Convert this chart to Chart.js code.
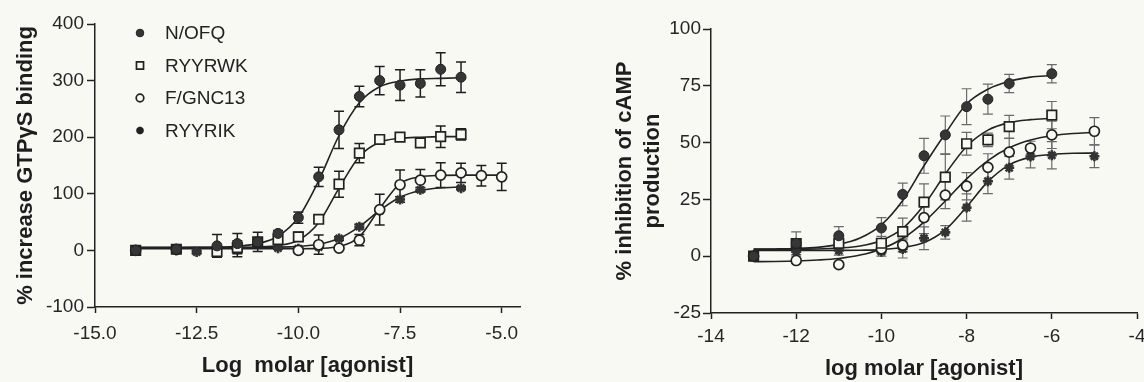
<!DOCTYPE html>
<html>
<head>
<meta charset="utf-8">
<script src="https://cdn.jsdelivr.net/npm/chart.js@4.4.0/dist/chart.umd.min.js"></script>
<style>
  html, body { margin: 0; padding: 0; background: #f9f9f4; overflow: hidden; }
  #wrap { position: relative; width: 1144px; height: 382px; overflow: hidden; }
  #gtpChart { position: absolute; left: 0; top: 0; }
  #campChart { position: absolute; left: 572px; top: 0; }
</style>
</head>
<body>
<div id="wrap">
  <canvas id="gtpChart" width="560" height="382"></canvas>
  <canvas id="campChart" width="600" height="382"></canvas>
</div>
<script>
// === Data ===
const seriesNames = ['N/OFQ', 'RYYRWK', 'F/GNC13', 'RYYRIK'];

// left panel: % increase GTPyS binding (mean, +/- error)
const gtpDoses = [-14, -13, -12.5, -12, -11.5, -11, -10.5, -10, -9.5, -9, -8.5, -8, -7.5, -7, -6.5, -6, -5.5, -5];
const gtpNofq     = [0, 2, null, 8, 12, 15, 30, 58, 130, 213, 272, 300, 292, 295, 320, 306, null, null];
const gtpNofqErr  = [0, 3, null, 20, 18, 17, 5, 10, 17, 33, 18, 25, 27, 24, 29, 27, null, null];
const gtpRwk      = [0, 2, null, -2, 5, 15, 19, 24, 55, 117, 172, 196, 200, 190, 201, 205, null, null];
const gtpRwkErr   = [0, 0, null, 3, 5, 0, 4, 8, 6, 23, 17, 5, 6, 6, 19, 10, null, null];
const gtpGnc      = [0, 2, null, null, 3, null, null, 0, 10, 4, 18, 72, 116, 124, 133, 137, 132, 130];
const gtpGncErr   = [0, 0, null, null, 14, null, null, 3, 17, 3, 10, 27, 26, 19, 22, 17, 18, 24];
const gtpRik      = [0, 0, -3, null, null, null, 4, 3, 6, 21, 42, 70, 90, 107, null, 110, null, null];
const gtpRikErr   = [0, 0, 3, null, null, null, 2, 2, 2, 3, 4, 0, 5, 4, null, 3, null, null];

// fitted curves
const gtpFitDoses = [-14, -13.5, -13, -12.5, -12, -11.5, -11, -10.5, -10, -9.5, -9, -8.5, -8, -7.5, -7, -6.5, -6, -5.5, -5];
const gtpFitNofq = [5, 5, 5.1, 5.3, 5.8, 7.4, 12, 25, 58, 123, 203, 261, 289, 299, 303, 304, 305, null, null];
const gtpFitRwk  = [5, 5, 5, 5, 5, 5.2, 5.9, 8.5, 18, 49, 110, 166, 191, 198, 200, 201, 201, null, null];
const gtpFitGnc  = [3, 3, 3, 3, 3, 3, 3, 3, 3, 3.6, 6.8, 24, 74, 118, 130, 132.6, 133, 133, 133];
const gtpFitRik  = [5, 5, 5, 5, 5, 5, 5.2, 5.7, 7.1, 10.9, 21, 42, 70.6, 93.8, 105.7, 110.4, 112, null, null];

const gtpTicksX = [-15, -12.5, -10, -7.5, -5];
const gtpTicksY = [-100, 0, 100, 200, 300, 400];
const gtpSquareFilled = [-14, -13, -11];

// right panel: % inhibition of cAMP production
const campDoses = [-13, -12, -11, -10, -9.5, -9, -8.5, -8, -7.5, -7, -6.5, -6, -5];
const campNofq    = [0, 5.7, 9, 12.4, 27.2, 44.2, 53.4, 65.8, 69.1, 76, null, 80.3, null];
const campNofqErr = [0, 5, 4, 4.6, 5, 7.7, 8.3, 7.9, 6.6, 4, null, 4, null];
const campRwk     = [0, 5.5, 5.7, 5.7, 10.8, 23.8, 34.8, 49.5, 51.2, 57, null, 62.1, null];
const campRwkErr  = [0, 2, 3, 3, 6, 8, 10, 5, 3, 5, null, 6, null];
const campGnc     = [0, -1.9, -3.7, 3.2, 4.9, 17, 26.9, 30.8, 39.1, 45.8, 47.6, 53.4, 55];
const campGncErr  = [0, 1, 1, 2, 3, 7, 6, 6, 6, 6, 3, 6, 6];
const campRik     = [0, 2, 2.5, 2, 3.2, 7.9, 10.5, 21.4, 33, 38.9, 43.9, 44.4, 44];
const campRikErr  = [0, 2, 2, 2, 4, 5, 3, 6, 5.5, 5, 5, 6, 5];

const campFitDoses = [-13, -12.5, -12, -11.5, -11, -10.5, -10, -9.5, -9, -8.5, -8, -7.5, -7, -6.5, -6, -5.5, -5];
const campFitNofq = [3.1, 3.2, 3.4, 3.9, 5.2, 8, 13.8, 24.5, 39.8, 54, 67, 73.5, 77, 78.8, 79.5, null, null];
const campFitRwk  = [3, 3, 3.1, 3.2, 3.6, 4.5, 6.9, 12.2, 22.5, 36.2, 48.3, 55.5, 58.8, 60.1, 60.7, null, null];
const campFitGnc  = [-2.4, -2.3, -2.1, -1.7, -1, 0.5, 3.2, 7.8, 15, 24.3, 34, 42.1, 47.7, 51.1, 53, 54, 54.5];
const campFitRik  = [2.5, 2.5, 2.5, 2.5, 2.55, 2.65, 2.9, 3.8, 6, 11.6, 21.7, 32.8, 40.2, 43.6, 44.8, 45.3, 45.4];

const campTicksX = [-14, -12, -10, -8, -6, -4];
const campTicksY = [-25, 0, 25, 50, 75, 100];
const campSquareFilled = [-13, -12];

// === Styles ===
const INK = '#222222';
const PAPER = '#f9f9f4';
const FONT = "'Liberation Sans', Arial, Helvetica, sans-serif";
Chart.defaults.font.family = FONT;

const markerStyles = [
  { pointStyle: 'circle', fill: '#363636', radius: 5, border: 1 },
  { pointStyle: 'rect', fill: PAPER, radius: 6.7, border: 1.7 },
  { pointStyle: 'circle', fill: PAPER, radius: 5, border: 1.7 },
  { pointStyle: 'star', fill: INK, radius: 5, border: 2.6 }
];

function points(xs, ys, errs) {
  return xs.map((x, i) => ({ x: x, y: ys[i], e: errs ? errs[i] : 0 })).filter(p => p.y !== null);
}

function markerSet(i, data, squareFilled) {
  const st = markerStyles[i];
  return {
    type: 'scatter',
    label: seriesNames[i],
    data: data,
    order: 1,
    pointStyle: st.pointStyle,
    pointRadius: st.radius,
    pointBorderWidth: st.border,
    pointBorderColor: i === 3 ? '#333' : INK,
    pointBackgroundColor: i === 1
      ? (c => (c.raw && squareFilled.includes(c.raw.x)) ? '#363636' : PAPER)
      : st.fill
  };
}

function curveSet(data) {
  return {
    type: 'line',
    data: data,
    order: 2,
    borderColor: INK,
    borderWidth: 1.6,
    pointRadius: 0,
    fill: false,
    cubicInterpolationMode: 'monotone'
  };
}

// === Plugins ===
const errorBars = {
  id: 'errorBars',
  beforeDatasetsDraw(chart, args, opts) {
    const { ctx } = chart;
    const xs = chart.scales.x, ys = chart.scales.y;
    ctx.save();
    ctx.strokeStyle = opts.color;
    ctx.lineWidth = opts.width;
    chart.data.datasets.forEach(ds => {
      if (ds.type !== 'scatter') return;
      ds.data.forEach(p => {
        if (!p.e) return;
        const px = xs.getPixelForValue(p.x);
        const top = ys.getPixelForValue(p.y + p.e);
        const bot = ys.getPixelForValue(p.y - p.e);
        ctx.beginPath();
        ctx.moveTo(px, top); ctx.lineTo(px, bot);
        ctx.moveTo(px - opts.cap, top); ctx.lineTo(px + opts.cap, top);
        ctx.moveTo(px - opts.cap, bot); ctx.lineTo(px + opts.cap, bot);
        ctx.stroke();
      });
    });
    ctx.restore();
  }
};

// legend drawn inside the plot, top left
const insetLegend = {
  id: 'insetLegend',
  afterDraw(chart, args, opts) {
    if (!opts.show) return;
    const { ctx, chartArea } = chart;
    ctx.save();
    ctx.font = '19px ' + FONT;
    ctx.textBaseline = 'middle';
    ctx.textAlign = 'left';
    seriesNames.forEach((name, i) => {
      const st = markerStyles[i];
      const sx = chartArea.left + 45;
      const sy = chartArea.top + 9 + i * 32.5;
      ctx.fillStyle = st.fill;
      ctx.strokeStyle = INK;
      ctx.lineWidth = st.border;
      Chart.helpers.drawPoint(ctx, {
        pointStyle: st.pointStyle,
        radius: st.pointStyle === 'rect' ? 5 : 3.8,
        borderWidth: st.border,
        rotation: 0
      }, sx, sy);
      ctx.fillStyle = '#222';
      ctx.fillText(name, chartArea.left + 70, sy + 1);
    });
    ctx.restore();
  }
};

// === Chart builder ===
function makePanel(canvasId, p) {
  const ctx = document.getElementById(canvasId).getContext('2d');
  return new Chart(ctx, {
    type: 'scatter',
    data: { datasets: p.datasets },
    options: {
      responsive: false,
      animation: false,
      devicePixelRatio: 1,
      layout: { padding: p.padding },
      plugins: {
        legend: { display: false },
        tooltip: { enabled: false },
        errorBars: p.errorBars,
        insetLegend: { show: p.legend }
      },
      scales: {
        x: {
          type: 'linear',
          min: p.xMin, max: p.xMax,
          afterBuildTicks: s => { s.ticks = p.ticksX.map(v => ({ value: v })); },
          afterFit: s => { s.height = p.xHeight; },
          border: { color: INK, width: 1.5 },
          grid: { drawOnChartArea: false, tickLength: 6, tickColor: INK, tickWidth: 1.5 },
          ticks: {
            color: '#262626', font: { size: 19 }, padding: p.xTickPad,
            maxRotation: 0, autoSkip: false, callback: p.xFormat
          },
          title: {
            display: true, text: p.xTitle, color: '#1e1e1e',
            font: { size: 22, weight: 'bold' },
            padding: { top: 0, bottom: p.xTitlePad }
          }
        },
        y: {
          type: 'linear',
          min: p.yMin, max: p.yMax,
          afterBuildTicks: s => { s.ticks = p.ticksY.map(v => ({ value: v })); },
          afterFit: s => { s.width = p.yWidth; },
          border: { color: INK, width: 1.5 },
          grid: { drawOnChartArea: false, tickLength: 8, tickColor: INK, tickWidth: 1.5 },
          ticks: { color: '#262626', font: { size: 19 }, padding: p.yTickPad },
          title: {
            display: true, text: p.yTitle, color: '#1e1e1e',
            font: { size: 22, weight: 'bold', lineHeight: 1.27 },
            padding: { top: p.yTitlePad, bottom: 0 }
          }
        }
      }
    },
    plugins: [errorBars, insetLegend]
  });
}

// === Left: GTPyS binding ===
makePanel('gtpChart', {
  datasets: [
    markerSet(0, points(gtpDoses, gtpNofq, gtpNofqErr), gtpSquareFilled),
    markerSet(1, points(gtpDoses, gtpRwk, gtpRwkErr), gtpSquareFilled),
    markerSet(2, points(gtpDoses, gtpGnc, gtpGncErr), gtpSquareFilled),
    markerSet(3, points(gtpDoses, gtpRik, gtpRikErr), gtpSquareFilled),
    curveSet(points(gtpFitDoses, gtpFitNofq)),
    curveSet(points(gtpFitDoses, gtpFitRwk)),
    curveSet(points(gtpFitDoses, gtpFitGnc)),
    curveSet(points(gtpFitDoses, gtpFitRik))
  ],
  padding: { left: 0, top: 24, right: 40, bottom: 0 },
  xMin: -15, xMax: -4.55, ticksX: gtpTicksX, xFormat: v => v.toFixed(1),
  yMin: -100, yMax: 400, ticksY: gtpTicksY,
  xHeight: 75, yWidth: 95, xTickPad: 9, yTickPad: 3,
  xTitle: 'Log  molar [agonist]', xTitlePad: 3,
  yTitle: '% increase GTPγS binding', yTitlePad: 12,
  errorBars: { color: '#1e1e1e', width: 1.5, cap: 5 },
  legend: true
});

// === Right: cAMP inhibition ===
makePanel('campChart', {
  datasets: [
    markerSet(0, points(campDoses, campNofq, campNofqErr), campSquareFilled),
    markerSet(1, points(campDoses, campRwk, campRwkErr), campSquareFilled),
    markerSet(2, points(campDoses, campGnc, campGncErr), campSquareFilled),
    markerSet(3, points(campDoses, campRik, campRikErr), campSquareFilled),
    curveSet(points(campFitDoses, campFitNofq)),
    curveSet(points(campFitDoses, campFitRwk)),
    curveSet(points(campFitDoses, campFitGnc)),
    curveSet(points(campFitDoses, campFitRik))
  ],
  padding: { left: 0, top: 29, right: 35, bottom: 0 },
  xMin: -14, xMax: -4, ticksX: campTicksX, xFormat: v => String(v),
  yMin: -25, yMax: 100, ticksY: campTicksY,
  xHeight: 69, yWidth: 139, xTickPad: 6, yTickPad: 2,
  xTitle: 'log molar [agonist]', xTitlePad: 0,
  yTitle: ['% inhibition of cAMP', 'production'], yTitlePad: 39,
  errorBars: { color: '#6a6a6a', width: 1.2, cap: 5 },
  legend: false
});
</script>
</body>
</html>
